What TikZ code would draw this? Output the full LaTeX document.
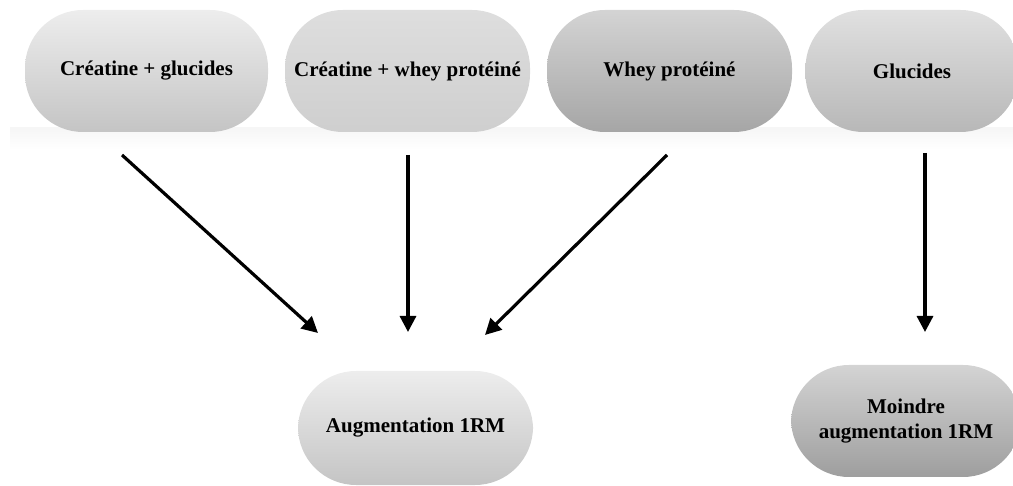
\documentclass[tikz,border=0pt]{standalone}
\usepackage{fontspec}
\setmainfont{Liberation Serif}
\usetikzlibrary{arrows.meta}
\usetikzlibrary{positioning,calc}

\begin{document}
\begin{tikzpicture}[x=1pt, y=-1pt,
	pill/.style = {rectangle, rounded corners=58pt, top color=gray!14, bottom color=gray!46, align=center, inner sep=0pt, font=\fontsize{21}{25}\selectfont\bfseries},
	pilldark/.style = {pill, top color=gray!34, bottom color=gray!70},
	arr/.style = {line width=3.2pt, -{Triangle[length=16pt,width=16pt]}}]
		\useasboundingbox (0,0) rectangle (1013,486);
		\fill[top color=gray!7, bottom color=white] (10,128) rectangle (1013,150);
		\node[pill, minimum width=243pt, minimum height=122pt] (1) at (146.5,71) {Créatine + glucides};
		\node[pill, minimum width=245pt, minimum height=122pt, top color=gray!26, bottom color=gray!38] (2) at (407.5,71) {Créatine + whey protéiné};
		\node[pilldark, minimum width=245pt, minimum height=122pt] (3) at (669.5,71) {Whey protéiné};
		\node[pill, minimum width=213pt, minimum height=122pt, top color=gray!24, bottom color=gray!56] (4) at (912,71) {Glucides};
		\node[pill, minimum width=235pt, minimum height=114pt] (5) at (415.5,428) {Augmentation 1RM};
		\node[pilldark, minimum width=230pt, minimum height=112pt, bottom color=gray!76] (6) at (906,421) {Moindre\\augmentation 1RM};
		\coordinate (1a) at (122,155);
		\coordinate (1b) at (318,333);
		\coordinate (2a) at (408,155);
		\coordinate (2b) at (408,332);
		\coordinate (3a) at (667,155);
		\coordinate (3b) at (485,335);
		\coordinate (4a) at (925,153);
		\coordinate (4b) at (925,332);
		\draw[arr] (1a) -- (1b);
		\draw[arr] (2a) -- (2b);
		\draw[arr] (3a) -- (3b);
		\draw[arr] (4a) -- (4b);
	\end{tikzpicture}
\end{document}
